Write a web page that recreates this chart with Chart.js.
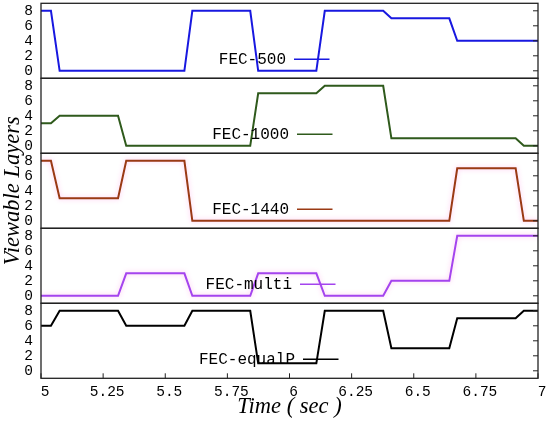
<!DOCTYPE html>
<html><head><meta charset="utf-8">
<script src="https://cdn.jsdelivr.net/npm/chart.js@4.4.1/dist/chart.umd.min.js"></script>
<style>html,body{margin:0;padding:0;background:#fff;}#wrap{width:550px;height:424px;}</style>
</head><body><div id="wrap"><canvas id="c" width="550" height="424"></canvas></div>
<script>
// ---- data ----
const timeSec   = [5, 5.04, 5.075, 5.31, 5.343, 5.577, 5.609, 5.842, 5.874, 6.108, 6.142, 6.377, 6.41, 6.643, 6.675, 6.91, 6.943, 7];
const fec500    = [8, 8, 0, 0, 0, 0, 8, 8, 0, 0, 8, 8, 7, 7, 4, 4, 4, 4];
const fec1000   = [3, 3, 4, 4, 0, 0, 0, 0, 7, 7, 8, 8, 1, 1, 1, 1, 0, 0];
const fec1440   = [8, 8, 3, 3, 8, 8, 0, 0, 0, 0, 0, 0, 0, 0, 7, 7, 0, 0];
const fecMulti  = [0, 0, 0, 0, 3, 3, 0, 0, 3, 3, 0, 0, 2, 2, 8, 8, 8, 8];
const fecEqualP = [6, 6, 8, 8, 6, 6, 8, 8, 1, 1, 8, 8, 3, 3, 7, 7, 8, 8];
const seriesNames = ['FEC-500', 'FEC-1000', 'FEC-1440', 'FEC-multi', 'FEC-equalP'];
const xTickValues = [5, 5.25, 5.5, 5.75, 6, 6.25, 6.5, 6.75, 7];
const xTickLabels = ['5', '5.25', '5.5', '5.75', '6', '6.25', '6.5', '6.75', '7'];
const yTickValues = [0, 2, 4, 6, 8];

// ---- styling ----
const seriesValues = [fec500, fec1000, fec1440, fecMulti, fecEqualP];
const seriesColors = ['#1818e0', '#2f5a1c', '#9a3a14', '#a444ee', '#000000'];
const seriesHalo = [null, null, 'rgba(255,120,220,0.45)', 'rgba(255,120,220,0.45)', null];
const axisIds = ['y1', 'y2', 'y3', 'y4', 'y5'];
const keyLineStart = [294, 297, 297, 300, 303];
const MONO = '"Liberation Mono", "DejaVu Sans Mono", monospace';
const SERIF = '"Liberation Serif", "DejaVu Serif", serif';

const datasets = seriesValues.map((vals, k) => ({
  label: seriesNames[k],
  data: timeSec.map((t, i) => ({x: t, y: vals[i]})),
  yAxisID: axisIds[k],
  borderColor: seriesColors[k],
  backgroundColor: seriesColors[k],
  borderWidth: 2,
  pointRadius: 0,
  tension: 0,
  fill: false
}));

const scales = {
  x: {
    type: 'linear', position: 'bottom', min: 5, max: 7,
    afterBuildTicks: s => { s.ticks = xTickValues.map(v => ({value: v})); },
    afterFit: s => { s.height = 45.7; },
    grid: {display: false, drawTicks: false},
    border: {display: false},
    ticks: {
      autoSkip: false, maxRotation: 0, padding: 5, labelOffset: 4,
      color: '#000', font: {family: MONO, size: 14.5},
      callback: (v, i) => xTickLabels[i]
    },
    title: {display: true, text: 'Time ( sec )', color: '#000',
      font: {family: SERIF, size: 22.5, style: 'italic'}, padding: {top: 0, bottom: 3}}
  }
};
axisIds.forEach((id, k) => {
  scales[id] = {
    type: 'linear', position: 'left', stack: 'panels', stackWeight: 1,
    weight: 5 - k, offset: false, min: -1, max: 9,
    afterBuildTicks: s => { s.ticks = yTickValues.map(v => ({value: v})); },
    afterFit: s => { s.width = 41; s.paddingTop = 0; s.paddingBottom = 0; },
    grid: {display: false, drawTicks: false},
    border: {display: false},
    ticks: {autoSkip: false, padding: 8, color: '#000', font: {family: MONO, size: 14.5}, callback: v => String(v)},
    title: {display: k === 2, text: 'Viewable Layers', color: '#000',
      font: {family: SERIF, size: 22.5, style: 'italic'}, padding: 0}
  };
});

const haloPlugin = {
  id: 'halo',
  beforeDatasetDraw(chart, args) {
    const c = seriesHalo[args.index];
    if (!c) return;
    const ctx = chart.ctx;
    ctx.save();
    ctx.shadowColor = c;
    ctx.shadowBlur = 5;
  },
  afterDatasetDraw(chart, args) {
    if (seriesHalo[args.index]) chart.ctx.restore();
  }
};

const framePlugin = {
  id: 'frame',
  afterDatasetsDraw(chart) {
    const ctx = chart.ctx, a = chart.chartArea;
    ctx.save();
    // key entries inside each panel
    chart.data.datasets.forEach((ds, k) => {
      const sc = chart.scales[axisIds[k]];
      const y = sc.getPixelForValue(1.55);
      const x0 = keyLineStart[k];
      ctx.font = '16px ' + MONO;
      ctx.fillStyle = '#000';
      ctx.textAlign = 'right';
      ctx.textBaseline = 'middle';
      ctx.fillText(ds.label, x0 - 8, y + 0.5);
      ctx.strokeStyle = ds.borderColor;
      ctx.lineWidth = 1.6;
      ctx.beginPath(); ctx.moveTo(x0, y); ctx.lineTo(x0 + 35.5, y); ctx.stroke();
    });
    // panel frames and mirrored ticks
    ctx.strokeStyle = '#222';
    axisIds.forEach(id => {
      const sc = chart.scales[id];
      ctx.lineWidth = 1.3;
      ctx.strokeRect(a.left, sc.top, a.right - a.left, sc.bottom - sc.top);
      ctx.beginPath();
      yTickValues.forEach(v => {
        const y = sc.getPixelForValue(v);
        ctx.moveTo(a.right - 5, y); ctx.lineTo(a.right, y);
      });
      ctx.lineWidth = 1;
      ctx.stroke();
    });
    const xs = chart.scales.x;
    ctx.beginPath();
    xTickValues.forEach(v => {
      const x = xs.getPixelForValue(v);
      ctx.moveTo(x, a.bottom); ctx.lineTo(x, a.bottom - 5);
    });
    ctx.lineWidth = 1;
    ctx.stroke();
    ctx.restore();
  }
};

new Chart(document.getElementById('c'), {
  type: 'line',
  data: {datasets},
  options: {
    responsive: false, animation: false, devicePixelRatio: 1,
    layout: {padding: {top: 3.3, right: 12, left: 0, bottom: 0}},
    plugins: {legend: {display: false}, tooltip: {enabled: false}},
    scales
  },
  plugins: [haloPlugin, framePlugin]
});
</script></body></html>
